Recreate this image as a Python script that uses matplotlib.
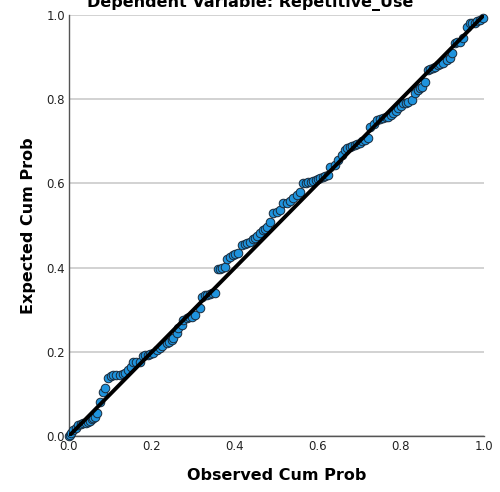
import matplotlib
matplotlib.use("Agg")
import matplotlib.pyplot as plt

observed = [0.000, 0.002, 0.006, 0.010, 0.016, 0.022, 0.028, 0.034, 0.040, 0.046,
            0.051, 0.055, 0.059, 0.063, 0.067, 0.075, 0.081, 0.087, 0.094, 0.100,
            0.106, 0.114, 0.123, 0.129, 0.135, 0.142, 0.150, 0.154, 0.162, 0.171,
            0.178, 0.183, 0.190, 0.196, 0.202, 0.212, 0.219, 0.224, 0.236, 0.242,
            0.248, 0.251, 0.260, 0.263, 0.272, 0.275, 0.284, 0.290, 0.296, 0.304,
            0.316, 0.320, 0.327, 0.333, 0.339, 0.345, 0.352, 0.359, 0.364, 0.369,
            0.376, 0.381, 0.388, 0.395, 0.401, 0.407, 0.417, 0.424, 0.430, 0.436,
            0.443, 0.448, 0.453, 0.460, 0.467, 0.472, 0.477, 0.484, 0.492, 0.501,
            0.508, 0.516, 0.525, 0.533, 0.540, 0.549, 0.557, 0.564, 0.570, 0.576,
            0.582, 0.588, 0.594, 0.600, 0.606, 0.612, 0.618, 0.624, 0.629, 0.641,
            0.648, 0.658, 0.665, 0.671, 0.677, 0.683, 0.689, 0.695, 0.701, 0.707,
            0.713, 0.720, 0.725, 0.734, 0.742, 0.750, 0.757, 0.763, 0.769, 0.775,
            0.781, 0.787, 0.793, 0.799, 0.805, 0.811, 0.817, 0.826, 0.834, 0.841,
            0.846, 0.851, 0.858, 0.865, 0.870, 0.876, 0.882, 0.889, 0.895, 0.901,
            0.910, 0.918, 0.923, 0.930, 0.936, 0.942, 0.949, 0.959, 0.966, 0.972,
            0.978, 0.984, 0.990, 0.998]
expected = [0.000, 0.002, 0.008, 0.014, 0.020, 0.026, 0.029, 0.031, 0.032, 0.033,
            0.036, 0.040, 0.042, 0.045, 0.055, 0.081, 0.105, 0.114, 0.138, 0.142,
            0.145, 0.145, 0.145, 0.147, 0.150, 0.157, 0.165, 0.176, 0.176, 0.176,
            0.190, 0.192, 0.192, 0.195, 0.197, 0.205, 0.209, 0.214, 0.221, 0.224,
            0.228, 0.233, 0.245, 0.257, 0.264, 0.276, 0.280, 0.282, 0.283, 0.287,
            0.304, 0.330, 0.335, 0.335, 0.337, 0.340, 0.340, 0.397, 0.397, 0.399,
            0.401, 0.420, 0.425, 0.430, 0.432, 0.435, 0.454, 0.456, 0.458, 0.461,
            0.468, 0.471, 0.475, 0.482, 0.489, 0.492, 0.496, 0.508, 0.530, 0.532,
            0.537, 0.553, 0.553, 0.558, 0.565, 0.572, 0.580, 0.600, 0.601, 0.603,
            0.604, 0.606, 0.608, 0.610, 0.613, 0.615, 0.618, 0.620, 0.639, 0.644,
            0.656, 0.667, 0.679, 0.683, 0.686, 0.688, 0.691, 0.693, 0.696, 0.700,
            0.703, 0.708, 0.734, 0.740, 0.751, 0.753, 0.755, 0.757, 0.758, 0.762,
            0.767, 0.772, 0.779, 0.785, 0.791, 0.792, 0.793, 0.798, 0.815, 0.822,
            0.826, 0.829, 0.842, 0.869, 0.872, 0.874, 0.876, 0.881, 0.883, 0.886,
            0.892, 0.898, 0.910, 0.933, 0.935, 0.936, 0.945, 0.971, 0.981, 0.981,
            0.981, 0.985, 0.988, 0.993]

ticks = [0.0, 0.2, 0.4, 0.6, 0.8, 1.0]
tick_labels = ["0.0", "0.2", "0.4", "0.6", "0.8", "1.0"]

fig = plt.figure(figsize=(5.0, 4.92), dpi=100)
ax = fig.add_axes([69/500, 1 - 436/492, (484-69)/500, (436-15)/492])

ax.set_xlim(0, 1)
ax.set_ylim(0, 1)
ax.set_yticks(ticks)
ax.set_xticks(ticks)
ax.set_xticklabels(tick_labels)
ax.set_yticklabels(tick_labels)
ax.tick_params(length=0, labelsize=8.5, colors="#222222", pad=3)
ax.grid(axis="y", color="#cfcfcf", linewidth=1.3)
ax.set_axisbelow(True)
for s in ["top", "right"]:
    ax.spines[s].set_visible(False)
for s in ["left", "bottom"]:
    ax.spines[s].set_color("#555555")
    ax.spines[s].set_linewidth(1.0)

ax.scatter(observed, expected, s=38, facecolor="#1f93dd", edgecolor="#1a2a3a",
           linewidth=0.7, zorder=3, clip_on=False)
ax.plot([0, 1], [0, 1], color="black", linewidth=2.8, zorder=4,
        solid_capstyle="butt")

ax.set_xlabel("Observed Cum Prob", fontsize=11.5, fontweight="bold", labelpad=11)
ax.set_ylabel("Expected Cum Prob", fontsize=11.5, fontweight="bold", labelpad=7)
fig.text(0.5, 1 - 7/492, "Dependent Variable: Repetitive_Use", ha="center",
         va="baseline", fontsize=11.5, fontweight="bold")

fig.savefig("out.png", dpi=100)
